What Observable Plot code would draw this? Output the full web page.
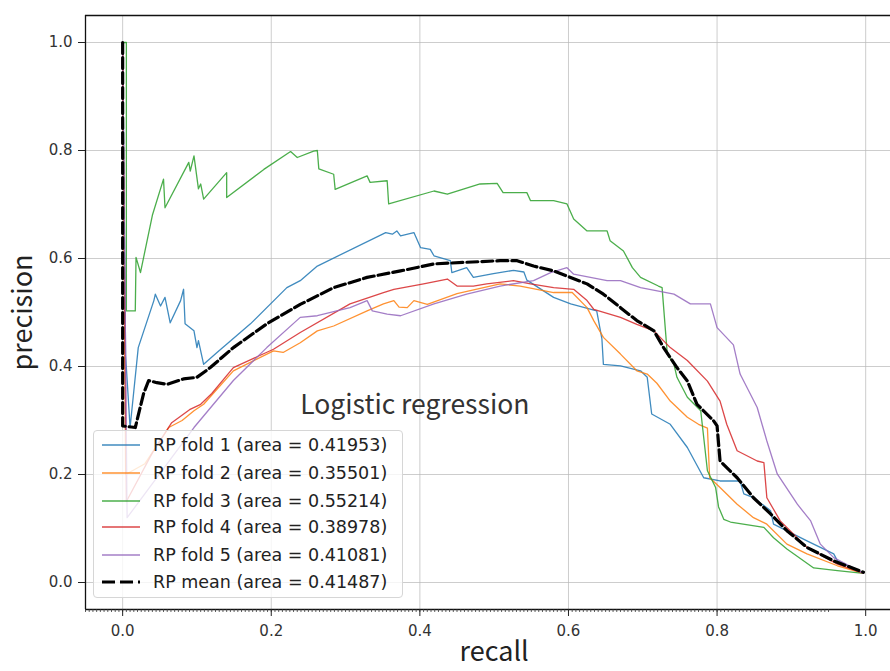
<!DOCTYPE html>
<html>
<head>
<meta charset="utf-8">
<script src="https://cdn.jsdelivr.net/npm/d3@7"></script>
<script src="https://cdn.jsdelivr.net/npm/@observablehq/plot@0.6"></script>
<style>
  html, body { margin: 0; padding: 0; background: #fff; overflow: hidden; }
  #wrap { position: relative; width: 890px; height: 671px; }
  #legend {
    position: absolute; left: 93px; top: 430px; width: 310px; height: 168px;
    box-sizing: border-box; background: rgba(255,255,255,0.8);
    border: 1px solid #d6d6d6; border-radius: 4px;
    font-family: "DejaVu Sans", sans-serif; font-size: 17.5px; color: #222;
  }
  .item { position: absolute; left: 0; height: 20px; display: flex; align-items: center; }
  .item svg { position: absolute; left: 7px; top: 0; }
  .item span { position: absolute; left: 59px; white-space: nowrap; line-height: 20px; }
</style>
</head>
<body>
<div id="wrap"></div>
<script>
// ---- data ----
const seriesNames = ["RP fold 1", "RP fold 2", "RP fold 3", "RP fold 4", "RP fold 5", "RP mean"];
const areas = ["0.41953", "0.35501", "0.55214", "0.38978", "0.41081", "0.41487"];
const colors = ["#1f77b4", "#ff7f0e", "#2ca02c", "#d62728", "#9467bd", "#000000"];
const xTicks = [0, 0.2, 0.4, 0.6, 0.8, 1.0];
const yTicks = [0, 0.2, 0.4, 0.6, 0.8, 1.0];
const title = "Logistic regression";

const fold1Recall = [0, 0.004, 0.010, 0.021, 0.042, 0.044, 0.051, 0.057, 0.064, 0.078, 0.082, 0.084, 0.096, 0.100, 0.102, 0.109, 0.127, 0.172, 0.221, 0.239, 0.262, 0.354, 0.363, 0.369, 0.374, 0.392, 0.401, 0.414, 0.419, 0.441, 0.443, 0.463, 0.472, 0.499, 0.526, 0.540, 0.544, 0.580, 0.603, 0.638, 0.645, 0.647, 0.670, 0.697, 0.706, 0.712, 0.737, 0.760, 0.782, 0.804, 0.831, 0.836, 0.849, 0.872, 0.876, 0.921, 0.957, 0.962, 0.997];
const fold1Precision = [1.0, 0.42, 0.287, 0.435, 0.522, 0.534, 0.512, 0.528, 0.481, 0.522, 0.543, 0.479, 0.466, 0.435, 0.448, 0.404, 0.426, 0.479, 0.546, 0.559, 0.586, 0.648, 0.645, 0.651, 0.642, 0.648, 0.620, 0.617, 0.605, 0.596, 0.574, 0.583, 0.565, 0.572, 0.578, 0.575, 0.560, 0.528, 0.516, 0.503, 0.451, 0.404, 0.401, 0.392, 0.380, 0.312, 0.293, 0.250, 0.194, 0.188, 0.188, 0.164, 0.157, 0.133, 0.108, 0.077, 0.053, 0.040, 0.017];

const fold2Recall = [0, 0.004, 0.030, 0.062, 0.080, 0.096, 0.109, 0.149, 0.203, 0.216, 0.239, 0.262, 0.284, 0.329, 0.351, 0.365, 0.372, 0.383, 0.392, 0.410, 0.450, 0.508, 0.535, 0.580, 0.605, 0.625, 0.634, 0.647, 0.670, 0.692, 0.706, 0.719, 0.737, 0.760, 0.775, 0.787, 0.790, 0.804, 0.827, 0.849, 0.867, 0.894, 0.921, 0.962, 0.997];
const fold2Precision = [1.0, 0.20, 0.22, 0.287, 0.300, 0.318, 0.330, 0.392, 0.429, 0.426, 0.444, 0.466, 0.475, 0.503, 0.516, 0.522, 0.510, 0.509, 0.522, 0.515, 0.535, 0.553, 0.549, 0.537, 0.537, 0.509, 0.485, 0.454, 0.423, 0.392, 0.386, 0.369, 0.336, 0.306, 0.293, 0.286, 0.194, 0.176, 0.145, 0.120, 0.108, 0.071, 0.053, 0.031, 0.017];

const fold3Recall = [0, 0.005, 0.005, 0.017, 0.018, 0.024, 0.040, 0.055, 0.057, 0.089, 0.091, 0.096, 0.102, 0.105, 0.109, 0.140, 0.140, 0.190, 0.226, 0.235, 0.257, 0.262, 0.264, 0.284, 0.286, 0.329, 0.333, 0.356, 0.358, 0.419, 0.437, 0.481, 0.504, 0.512, 0.544, 0.549, 0.580, 0.598, 0.607, 0.625, 0.652, 0.656, 0.674, 0.686, 0.697, 0.721, 0.726, 0.733, 0.742, 0.746, 0.760, 0.778, 0.787, 0.798, 0.802, 0.809, 0.818, 0.863, 0.876, 0.894, 0.930, 0.962, 0.997];
const fold3Precision = [1.0, 1.0, 0.503, 0.503, 0.602, 0.574, 0.680, 0.747, 0.694, 0.778, 0.762, 0.790, 0.729, 0.738, 0.710, 0.759, 0.713, 0.765, 0.798, 0.787, 0.799, 0.800, 0.766, 0.756, 0.728, 0.753, 0.741, 0.744, 0.701, 0.725, 0.719, 0.738, 0.739, 0.722, 0.722, 0.707, 0.707, 0.701, 0.673, 0.651, 0.651, 0.633, 0.614, 0.583, 0.565, 0.549, 0.546, 0.423, 0.404, 0.380, 0.343, 0.318, 0.207, 0.176, 0.140, 0.117, 0.112, 0.102, 0.083, 0.062, 0.027, 0.022, 0.017];

const fold4Recall = [0, 0.005, 0.040, 0.066, 0.090, 0.105, 0.120, 0.149, 0.203, 0.239, 0.306, 0.351, 0.365, 0.405, 0.437, 0.450, 0.472, 0.490, 0.526, 0.549, 0.580, 0.607, 0.625, 0.634, 0.670, 0.692, 0.715, 0.737, 0.760, 0.787, 0.804, 0.813, 0.827, 0.854, 0.863, 0.867, 0.885, 0.921, 0.962, 0.997];
const fold4Precision = [1.0, 0.15, 0.24, 0.296, 0.320, 0.330, 0.350, 0.398, 0.432, 0.463, 0.516, 0.537, 0.543, 0.553, 0.562, 0.549, 0.549, 0.553, 0.559, 0.553, 0.546, 0.543, 0.522, 0.506, 0.491, 0.478, 0.466, 0.435, 0.411, 0.373, 0.336, 0.293, 0.244, 0.225, 0.222, 0.157, 0.114, 0.065, 0.034, 0.017];

const fold5Recall = [0, 0.006, 0.060, 0.096, 0.149, 0.194, 0.239, 0.262, 0.306, 0.329, 0.336, 0.356, 0.374, 0.419, 0.463, 0.508, 0.553, 0.576, 0.598, 0.607, 0.652, 0.670, 0.697, 0.742, 0.764, 0.791, 0.800, 0.822, 0.831, 0.854, 0.867, 0.881, 0.908, 0.926, 0.939, 0.957, 0.997];
const fold5Precision = [1.0, 0.12, 0.22, 0.287, 0.374, 0.435, 0.491, 0.494, 0.509, 0.522, 0.503, 0.497, 0.494, 0.516, 0.534, 0.549, 0.559, 0.574, 0.583, 0.571, 0.559, 0.559, 0.546, 0.534, 0.516, 0.516, 0.472, 0.440, 0.386, 0.324, 0.262, 0.201, 0.145, 0.114, 0.071, 0.046, 0.017];

const meanRecall = [0, 0.0, 0.017, 0.028, 0.035, 0.046, 0.060, 0.082, 0.100, 0.118, 0.149, 0.194, 0.239, 0.284, 0.329, 0.374, 0.419, 0.463, 0.508, 0.531, 0.553, 0.580, 0.625, 0.647, 0.670, 0.692, 0.715, 0.728, 0.746, 0.760, 0.773, 0.795, 0.800, 0.804, 0.827, 0.849, 0.872, 0.894, 0.921, 0.957, 0.997];
const meanPrecision = [1.0, 0.29, 0.287, 0.349, 0.374, 0.370, 0.367, 0.377, 0.380, 0.398, 0.435, 0.479, 0.515, 0.546, 0.565, 0.577, 0.590, 0.593, 0.596, 0.596, 0.586, 0.577, 0.553, 0.534, 0.509, 0.485, 0.466, 0.435, 0.398, 0.373, 0.330, 0.300, 0.290, 0.225, 0.194, 0.157, 0.127, 0.096, 0.065, 0.040, 0.019];

const foldRecalls = [fold1Recall, fold2Recall, fold3Recall, fold4Recall, fold5Recall];
const foldPrecisions = [fold1Precision, fold2Precision, fold3Precision, fold4Precision, fold5Precision];

// ---- build tables ----
const folds = [];
foldRecalls.forEach((rs, i) => rs.forEach((r, j) => folds.push({series: seriesNames[i], recall: r, precision: foldPrecisions[i][j]})));
const mean = meanRecall.map((r, j) => ({series: seriesNames[5], recall: r, precision: meanPrecision[j]}));
const minorTicks = d3.range(0, 201).map(i => -0.05 + i * 0.005).filter(v => v <= 1.034);

const fontTick = "DejaVu Sans, sans-serif";
const fontLabel = "Noto Sans CJK JP, Noto Sans, sans-serif";

const chart = Plot.plot({
  width: 890,
  height: 671,
  marginLeft: 85,
  marginRight: 0,
  marginTop: 15,
  marginBottom: 62,
  x: {domain: [-0.05, 1.0334]},
  y: {domain: [-0.05, 1.05]},
  color: {domain: seriesNames, range: colors},
  style: {background: "#fff", overflow: "visible"},
  marks: [
    Plot.gridX(xTicks, {stroke: "#b8b8b8", strokeOpacity: 0.7, strokeWidth: 1}),
    Plot.gridY(yTicks, {stroke: "#b8b8b8", strokeOpacity: 0.7, strokeWidth: 1}),
    Plot.line(folds, {x: "recall", y: "precision", z: "series", stroke: "series", strokeWidth: 1.3, strokeOpacity: 0.85, curve: "linear"}),
    Plot.line(mean, {x: "recall", y: "precision", stroke: "#000", strokeWidth: 3.2, strokeDasharray: "11,4"}),
    Plot.text([title], {x: 0.239, y: 0.312, text: d => d, textAnchor: "start", lineAnchor: "bottom", fontSize: 26.5, fontFamily: fontLabel, fill: "#333"}),
    Plot.ruleY([1.05], {stroke: "#111", strokeWidth: 1.3}),
    Plot.ruleY([-0.05], {stroke: "#111", strokeWidth: 1.3}),
    Plot.ruleX([-0.05], {stroke: "#111", strokeWidth: 1.3}),
    Plot.axisX(minorTicks, {tickSize: 3, tickFormat: () => "", stroke: "#333", strokeWidth: 0.8, label: null}),
    Plot.axisX(xTicks, {tickSize: 7, tickPadding: 9, tickFormat: d3.format(".1f"), fontSize: 15, fontFamily: fontTick, fill: "#333", stroke: "#222", label: null}),
    Plot.axisY(yTicks, {tickSize: 7, tickPadding: 6, tickFormat: d3.format(".1f"), fontSize: 15, fontFamily: fontTick, fill: "#333", stroke: "#222", label: null}),
    Plot.text(["recall"], {x: 0.5, y: -0.05, dy: 43, text: d => d, fontSize: 27, fontFamily: fontLabel, fill: "#222", lineAnchor: "middle"}),
    Plot.text(["precision"], {x: -0.05, y: 0.5, dx: -62, text: d => d, rotate: -90, fontSize: 27, fontFamily: fontLabel, fill: "#222", lineAnchor: "middle"})
  ]
});

const wrap = document.getElementById("wrap");
wrap.appendChild(chart);

// ---- legend ----
const legend = document.createElement("div");
legend.id = "legend";
const rowTops = [4, 32, 60, 86, 114, 141];
seriesNames.forEach((name, i) => {
  const item = document.createElement("div");
  item.className = "item";
  item.style.top = rowTops[i] + "px";
  const isMean = i === 5;
  item.innerHTML = `<svg width="40" height="20"><line x1="1" y1="10" x2="39" y2="10" stroke="${colors[i]}" stroke-width="${isMean ? 3.2 : 1.6}" stroke-opacity="${isMean ? 1 : 0.85}" ${isMean ? 'stroke-dasharray="13,5"' : ''}/></svg><span>${name} (area = ${areas[i]})</span>`;
  legend.appendChild(item);
});
wrap.appendChild(legend);
</script>
</body>
</html>
